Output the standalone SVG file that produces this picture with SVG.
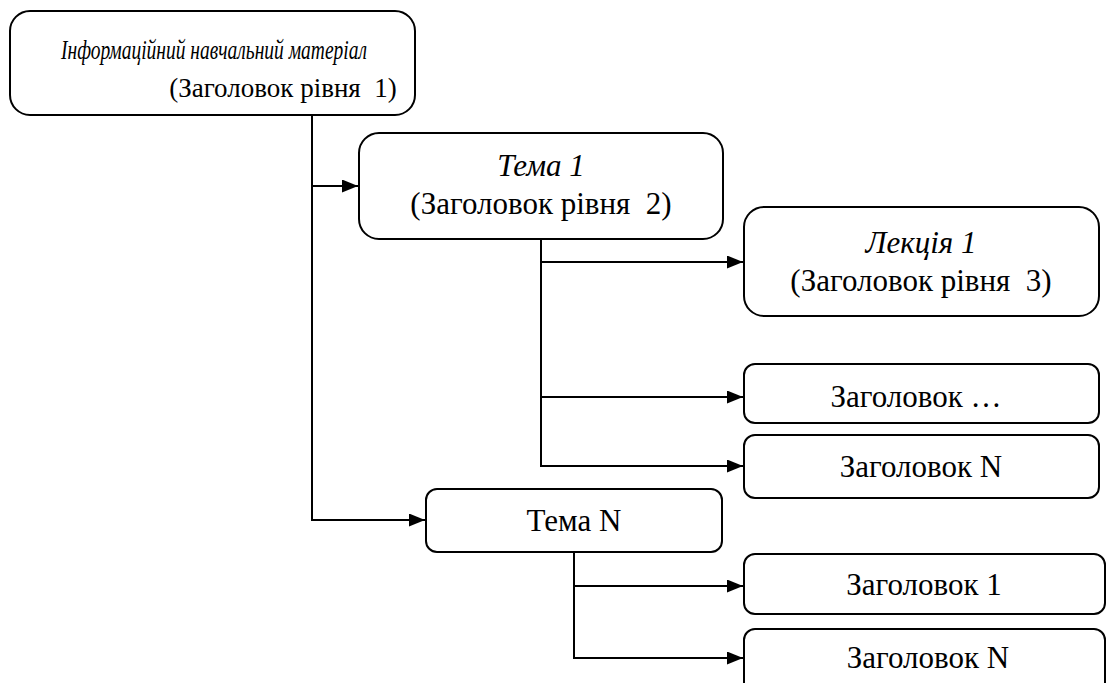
<svg xmlns="http://www.w3.org/2000/svg" width="1106" height="683" viewBox="0 0 1106 683">
  <style>
    .box { fill: #ffffff; stroke: #000000; stroke-width: 2; }
    .line { fill: none; stroke: #000000; stroke-width: 2; }
  </style>
  <defs>
    <marker id="arrow" viewBox="0 0 16 13" refX="16" refY="6.5" markerWidth="16" markerHeight="13" markerUnits="userSpaceOnUse" orient="auto">
      <path d="M0,0 L16,6.5 L0,13 Z" fill="#000000"/>
    </marker>
  </defs>
  <rect width="1106" height="683" fill="#ffffff"/>

  <g id="connectors">
    <!-- level 1 trunk -->
    <path class="line" d="M312,115 V520 H425" marker-end="url(#arrow)"/>
    <path class="line" d="M312,186 H358" marker-end="url(#arrow)"/>
    <!-- level 2 trunk (Тема 1) -->
    <path class="line" d="M541,239 V466 H743" marker-end="url(#arrow)"/>
    <path class="line" d="M541,262 H743" marker-end="url(#arrow)"/>
    <path class="line" d="M541,397 H743" marker-end="url(#arrow)"/>
    <!-- level 2 trunk (Тема N) -->
    <path class="line" d="M574,552 V658 H743" marker-end="url(#arrow)"/>
    <path class="line" d="M574,586 H743" marker-end="url(#arrow)"/>
  </g>

  <g font-family="Liberation Serif, serif" font-size="31" fill="#000000" text-anchor="middle">
    <g id="root">
      <rect class="box" x="10" y="11" width="405" height="104" rx="20"/>
      <text x="214" y="59" font-style="italic" font-size="28" textLength="306" lengthAdjust="spacingAndGlyphs">Інформаційний навчальний матеріал</text>
      <text x="283" y="97" font-size="27" xml:space="preserve">(Заголовок рівня  1)</text>
    </g>

    <g id="topic1">
      <rect class="box" x="359" y="133" width="364" height="106" rx="20"/>
      <text x="541" y="176" font-style="italic">Тема 1</text>
      <text x="541" y="214" xml:space="preserve">(Заголовок рівня  2)</text>
    </g>

    <g id="lecture1">
      <rect class="box" x="744" y="207" width="355" height="109" rx="20"/>
      <text x="921" y="253" font-style="italic">Лекція 1</text>
      <text x="921" y="291" xml:space="preserve">(Заголовок рівня  3)</text>
    </g>

    <g id="heading-etc">
      <rect class="box" x="744" y="364" width="355" height="59" rx="11"/>
      <text x="916" y="407">Заголовок …</text>
    </g>

    <g id="heading-n1">
      <rect class="box" x="744" y="435" width="355" height="63" rx="11"/>
      <text x="921" y="477">Заголовок N</text>
    </g>

    <g id="topicN">
      <rect class="box" x="426" y="489" width="296" height="63" rx="11"/>
      <text x="574" y="531">Тема N</text>
    </g>

    <g id="heading-1">
      <rect class="box" x="744" y="554" width="361" height="60" rx="11"/>
      <text x="924" y="595">Заголовок 1</text>
    </g>

    <g id="heading-n2">
      <rect class="box" x="744" y="629" width="361" height="70" rx="11"/>
      <text x="928" y="668">Заголовок N</text>
    </g>
  </g>
</svg>
